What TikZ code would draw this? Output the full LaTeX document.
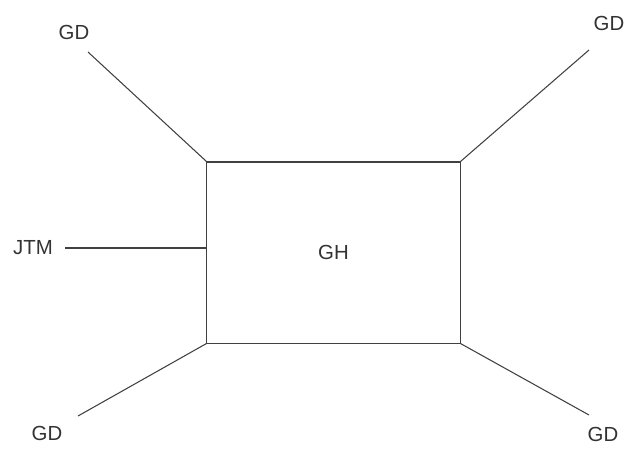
\documentclass[tikz,border=0pt]{standalone}
\usepackage{fontspec}
\setmainfont{Liberation Sans}
\usetikzlibrary{positioning}
\tikzset {
  every node/.style={font=\fontsize{14.5}{16}\selectfont, text=black!80},
  wire/.style={draw=black!75, line width=0.75pt},
}

\begin{document}
\begin{tikzpicture}[x=0.025cm,y=-0.025cm]
          \useasboundingbox (0,0) rectangle (626,449);
          \node[wire, minimum width=6.325cm, minimum height=4.525cm] (gh) at (333.5,252.5) {GH};
          \coordinate (tl) at (88,52);
          \coordinate (tr) at (589,50);
          \coordinate (bl) at (78,416);
          \coordinate (br) at (589,415);
          \coordinate (jtmend) at (65,248);
          \node (gdtl) at (74,32) {GD};
          \node (gdtr) at (609,23) {GD};
          \node (gdbl) at (47,433) {GD};
          \node (gdbr) at (603,434) {GD};
          \node (jtm) at (33,248) {JTM};
          \draw[wire] (gh.north west) -- (tl);
          \draw[wire] (gh.north east) -- (tr);
          \draw[wire] (gh.south west) -- (bl);
          \draw[wire] (gh.south east) -- (br);
          \draw[wire] (jtmend) -- (gh.west |- jtmend);
        \end{tikzpicture}
\end{document}
